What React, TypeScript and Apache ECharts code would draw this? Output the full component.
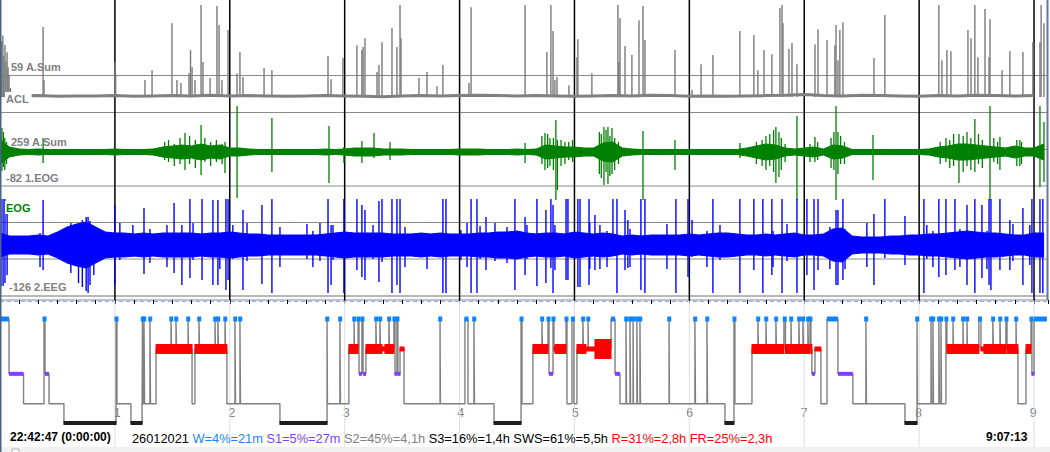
import React, { useEffect, useRef } from "react";
import * as echarts from "echarts";

// ---------- data (time axis in minutes from recording start) ----------
const X_MAX = 547.3;
const hourMarks = [1, 2, 3, 4, 5, 6, 7, 8, 9];

// ACL activity channel: baseline every 10 min, spikes [minute, amplitude]
const aclBaseline = [4, 3, 4, 2, 3, 3, 4, 2, 3, 4, 3, 5, 3, 4, 3, 2, 3, 4, 3, 2, 1, 3, 4, 3, 4, 5, 4, 3, 4, 3, 2, 3, 4, 3, 5, 4, 2, 3, 2, 3, 4, 5, 7, 4, 3, 5, 4, 3, 2, 4, 3, 5, 4, 3, 4];
const aclSpikes = [
  [0.3, 130], [0.9, 150], [1.5, 165], [2.0, 110], [2.6, 140], [3.1, 95], [3.7, 120], [4.2, 80], [4.7, 60], [5.5, 25],
  [22.5, 188], [23.0, 45], [60.0, 94], [60.4, 60],
  [75.7, 46], [79.4, 72], [89.8, 198], [92.4, 46], [94.5, 38], [98.7, 64], [99.5, 126], [100.3, 80], [101.8, 46],
  [105.0, 247], [106.0, 94], [109.7, 51], [113.3, 244], [114.4, 193], [115.9, 46], [119.1, 180], [123.8, 64],
  [125.3, 121], [126.9, 54], [137.9, 78], [142.0, 72], [171.3, 110], [172.9, 48], [179.1, 105],
  [186.4, 139], [189.0, 126], [189.6, 134], [190.6, 158], [196.9, 67], [197.9, 86], [199.5, 147], [204.7, 185],
  [207.3, 134], [208.9, 247], [209.4, 158], [218.8, 51], [223.0, 67], [228.2, 29], [231.3, 86],
  [244.9, 38], [246.0, 241], [274.2, 247], [285.6, 121], [287.7, 247], [288.8, 177], [289.8, 46], [290.9, 54],
  [297.1, 32], [301.3, 107], [301.8, 155], [309.1, 64],
  [322.7, 247], [323.2, 94], [323.8, 212], [326.4, 137], [330.0, 113], [333.7, 206], [335.8, 244], [336.8, 153],
  [352.5, 126], [361.4, 19], [366.1, 88], [372.3, 113], [386.4, 177], [393.7, 166], [395.8, 72], [399.0, 126],
  [403.1, 115], [407.3, 239], [408.4, 247], [408.9, 198], [412.0, 129], [413.6, 145], [416.2, 88],
  [425.6, 142], [427.2, 182], [431.9, 153], [436.0, 139], [436.6, 193], [437.6, 99], [438.6, 180], [440.2, 201],
  [456.4, 105], [462.1, 220], [490.3, 247], [491.9, 99], [494.5, 126], [496.6, 123], [505.5, 180], [507.1, 158],
  [509.1, 247], [510.7, 107], [514.4, 236], [516.5, 107], [517.0, 209], [523.3, 72], [527.4, 123], [534.2, 121],
  [539.4, 147], [543.1, 147], [543.7, 247], [545.2, 198],
];

// EOG channel: envelope every 5 min, spikes [minute, up, down]
const eogEnvelope = [12, 5, 3, 2.5, 3, 2.5, 2.5, 2.5, 2.5, 2.5, 2.5, 2.5, 3, 2.5, 2.5, 2.5, 3, 5, 6, 7, 6, 8, 6, 7, 4, 4, 3, 2.5, 2.5, 2.5, 2.5, 2.5, 2.5, 2.5, 3, 2.5, 3, 4, 4, 4, 3, 3, 3, 2.5, 2.5, 2.5, 2.5, 2.5, 3, 3, 3, 2.5, 2.5, 2.5, 3, 2.5, 3, 7, 6, 5, 5, 4, 4, 9, 10, 4, 3, 2.5, 2.5, 2.5, 2.5, 2.5, 2.5, 2.5, 2.5, 2.5, 2.5, 2.5, 4, 6, 8, 7, 4, 3, 4, 5, 3, 7, 6, 2.5, 2.5, 2.5, 2.5, 2.5, 2.5, 2.5, 2.5, 3, 5, 6, 8, 8, 7, 6, 5, 4, 6, 4, 4, 8];
const eogSpikes = [
  [1.0, 24, 19], [1.8, 20, 15], [2.5, 14, 18], [3.4, 10, 12], [22.5, 14, 11],
  [86.0, 10, 8], [88.0, 12, 10], [91.0, 8, 14], [94.0, 14, 12], [96.6, 19, 18], [99.0, 16, 12], [102.0, 12, 16],
  [105.0, 27, 23], [107.0, 14, 10], [110.0, 10, 14], [113.0, 12, 10], [116.0, 8, 12], [117.5, 10, 21],
  [123.8, 46, 46], [142.0, 34, 20], [171.8, 26, 31], [179.6, 5, 11], [189.0, 11, 11], [195.3, 19, 6], [203.7, 10, 8],
  [274.2, 9, 11], [283.0, 16, 12], [284.6, 19, 18], [286.0, 18, 16], [287.2, 14, 14], [289.0, 14, 18], [290.3, 32, 48],
  [291.1, 12, 38], [293.0, 12, 14], [295.0, 10, 12], [297.0, 10, 8], [299.0, 12, 10],
  [313.0, 20, 22], [314.0, 18, 26], [315.4, 25, 33], [316.5, 22, 20], [317.5, 25, 32], [318.5, 16, 24], [319.6, 24, 22],
  [321.0, 14, 18], [323.0, 10, 12], [335.8, 21, 48], [352.5, 12, 18], [386.4, 9, 6],
  [395.0, 10, 12], [398.0, 12, 14], [400.0, 16, 18], [402.0, 18, 14], [404.0, 22, 20], [405.2, 25, 31], [406.8, 20, 25],
  [408.0, 14, 18], [410.0, 8, 10], [416.2, 36, 48], [423.0, 8, 10], [425.6, 15, 10], [427.0, 10, 8],
  [434.0, 14, 16], [435.5, 20, 18], [436.6, 46, 48], [437.6, 20, 22], [439.0, 16, 12], [441.0, 10, 12], [455.9, 17, 28],
  [491.0, 10, 12], [494.0, 14, 10], [496.0, 12, 16], [498.0, 18, 14], [500.8, 18, 31], [503.0, 16, 20], [505.0, 20, 14],
  [507.0, 14, 18], [509.1, 33, 20], [511.0, 18, 12], [513.0, 12, 16], [517.0, 46, 48], [519.0, 14, 10], [521.0, 10, 12],
  [522.2, 15, 18], [531.0, 12, 14], [532.6, 12, 14], [533.5, 10, 12], [543.1, 46, 35], [545.2, 30, 30],
];

// EEG channel: envelope every 5 min, spikes [minute, up, down]
const eegEnvelope = [12, 9, 9, 9, 10, 9, 13, 18, 21, 23, 18, 13, 12, 12, 11, 12, 11, 12, 12, 12, 12, 11, 12, 12, 13, 12, 11, 11, 10, 10, 10, 10, 10, 10, 11, 12, 13, 12, 12, 12, 12, 11, 11, 11, 12, 11, 12, 11, 11, 11, 12, 12, 13, 13, 14, 12, 11, 12, 12, 11, 13, 12, 11, 12, 11, 9, 10, 9, 10, 10, 10, 10, 11, 10, 11, 12, 12, 11, 10, 10, 11, 10, 11, 12, 10, 10, 11, 16, 17, 9, 8, 8, 8, 9, 9, 10, 10, 11, 11, 12, 13, 14, 13, 12, 12, 11, 10, 10, 12, 12];
const eegSpikes = [
  [0.5, 46, 41], [1.6, 46, 41], [2.6, 46, 38], [3.7, 40, 30], [20.9, 12, 22], [22.5, 45, 25],
  [37.0, 22, 28], [41.0, 20, 38], [43.0, 25, 42], [45.0, 28, 46], [46.0, 28, 48], [47.0, 24, 40], [49.0, 18, 30],
  [60.0, 40, 40], [62.6, 22, 15], [69.4, 20, 12], [75.2, 37, 29], [78.3, 16, 18], [87.2, 20, 22], [90.9, 42, 28],
  [95.0, 20, 40], [99.2, 46, 33], [100.8, 22, 15], [105.5, 46, 35], [111.2, 45, 40], [113.8, 45, 40], [114.8, 12, 24],
  [118.0, 46, 45], [119.1, 46, 35], [121.6, 20, 14], [126.9, 35, 45], [129.0, 22, 16], [136.8, 40, 39], [142.0, 46, 48],
  [146.2, 18, 22], [160.3, 21, 14], [163.4, 14, 22], [167.1, 22, 16], [171.3, 46, 48], [172.9, 20, 40], [173.9, 20, 15],
  [179.6, 46, 48], [186.4, 46, 25], [189.0, 40, 32], [190.6, 35, 35], [194.8, 20, 14], [197.9, 44, 37], [199.5, 46, 17],
  [204.7, 46, 48], [207.3, 46, 40], [208.9, 46, 48], [211.5, 18, 22], [223.0, 12, 24], [231.3, 46, 48], [232.9, 46, 48],
  [240.7, 15, 15], [243.9, 22, 22], [246.0, 46, 48], [249.1, 46, 48], [250.7, 19, 14], [253.8, 28, 25], [258.5, 22, 16],
  [264.8, 18, 18], [268.9, 46, 45], [274.2, 28, 30], [275.2, 20, 14], [280.4, 46, 41], [285.1, 35, 38], [287.7, 46, 23],
  [288.8, 40, 48], [289.8, 20, 25], [295.6, 46, 35], [296.6, 46, 35], [301.8, 46, 42], [302.9, 46, 42], [307.6, 46, 40],
  [308.0, 22, 24], [310.7, 30, 25], [313.3, 20, 24], [317.0, 14, 22], [320.1, 46, 10], [322.2, 46, 48], [326.4, 35, 25],
  [327.9, 25, 23], [329.0, 16, 22], [334.7, 46, 45], [336.8, 46, 48], [348.3, 21, 24], [353.0, 46, 48], [359.3, 46, 32],
  [361.4, 25, 12], [369.2, 14, 22], [372.3, 46, 48], [376.0, 20, 15], [386.4, 46, 48], [393.7, 46, 25], [398.4, 46, 48],
  [403.1, 46, 30], [403.7, 14, 22], [408.4, 46, 48], [411.0, 21, 16], [416.2, 46, 48], [421.4, 46, 30], [425.1, 46, 45],
  [427.2, 46, 25], [433.4, 18, 24], [436.6, 35, 40], [437.6, 35, 40], [440.2, 46, 35], [441.3, 16, 24], [452.7, 22, 22],
  [456.4, 31, 40], [462.1, 46, 13], [472.6, 29, 20], [482.5, 46, 48], [484.0, 20, 14], [487.2, 14, 22], [490.3, 46, 32],
  [494.0, 46, 30], [498.7, 46, 25], [501.3, 16, 22], [505.0, 40, 40], [509.1, 46, 48], [512.8, 40, 33], [515.4, 14, 24],
  [516.5, 46, 40], [517.5, 46, 45], [522.2, 46, 25], [527.4, 25, 25], [529.0, 21, 16], [534.2, 37, 40], [537.8, 20, 20],
  [538.9, 46, 48], [543.1, 46, 48], [544.6, 46, 48],
];

// Hypnogram: [minute the stage starts, stage]; R = REM, Rt = REM (thin mark), Rw = REM (wide mark)
const hypnogram: [number, string][] = [
  [0.5, "W"], [4.7, "S1"], [12.3, "S2"], [23.0, "W"], [23.5, "S1"], [25.6, "S2"], [33.4, "S3"], [60.6, "W"], [61.1, "S2"],
  [68.4, "S3"], [74.2, "S2"], [74.4, "W"], [74.7, "S2"], [75.2, "W"], [75.5, "S2"], [78.3, "W"], [78.6, "S2"], [81.5, "R"],
  [89.3, "W"], [89.6, "R"], [91.9, "W"], [92.2, "R"], [98.2, "W"], [98.4, "R"], [100.3, "S2"], [101.8, "R"], [103.9, "W"],
  [104.2, "R"], [112.3, "W"], [112.5, "R"], [113.8, "W"], [114.1, "R"], [117.5, "W"], [117.8, "R"], [118.5, "S2"],
  [122.7, "W"], [123.0, "S2"], [125.3, "W"], [125.6, "S2"], [146.2, "S3"], [170.8, "W"], [171.0, "S2"], [177.5, "W"],
  [177.8, "S2"], [182.2, "R"], [184.9, "W"], [185.1, "R"], [187.0, "W"], [187.5, "S1"], [189.0, "W"], [189.6, "S1"],
  [191.1, "R"], [196.3, "W"], [196.6, "R"], [198.4, "W"], [198.7, "R"], [199.5, "Rt"], [201.0, "R"], [203.1, "W"],
  [203.4, "R"], [205.7, "W"], [206.3, "S1"], [207.3, "W"], [207.8, "S1"], [208.9, "Rt"], [211.0, "S2"], [229.8, "W"],
  [230.0, "S2"], [242.8, "W"], [244.4, "S2"], [247.5, "W"], [247.8, "S2"], [258.0, "S3"], [272.1, "W"], [272.6, "S2"],
  [278.3, "R"], [283.0, "W"], [283.3, "R"], [286.2, "W"], [286.7, "S1"], [288.8, "W"], [289.3, "Rt"], [289.8, "R"],
  [295.6, "W"], [296.1, "S2"], [298.7, "W"], [299.7, "S2"], [301.3, "R"], [304.4, "W"], [304.7, "R"], [306.0, "Rt"],
  [307.1, "W"], [307.3, "Rt"], [310.7, "Rw"], [319.1, "W"], [321.2, "S1"], [323.8, "S2"], [326.9, "W"], [327.2, "S2"],
  [329.0, "W"], [329.3, "S2"], [330.6, "W"], [330.8, "S2"], [332.6, "W"], [332.9, "S2"], [334.2, "W"], [334.5, "S2"],
  [349.4, "W"], [349.6, "S2"], [362.9, "W"], [363.2, "S2"], [369.2, "W"], [369.5, "S2"], [378.6, "S3"], [383.3, "W"],
  [383.8, "S2"], [392.7, "R"], [395.8, "W"], [396.1, "R"], [400.0, "W"], [400.3, "R"], [405.2, "W"], [405.5, "R"],
  [409.4, "W"], [410.2, "R"], [413.1, "W"], [413.3, "R"], [417.2, "W"], [417.5, "R"], [419.3, "W"], [419.6, "R"],
  [421.9, "W"], [422.2, "R"], [423.0, "W"], [423.5, "R"], [424.0, "S1"], [425.6, "Rt"], [428.7, "S2"], [431.9, "W"],
  [437.6, "S1"], [445.4, "S2"], [452.2, "W"], [452.5, "S2"], [472.6, "S3"], [478.9, "W"], [479.1, "S2"], [486.2, "W"],
  [486.4, "S2"], [487.2, "W"], [487.5, "S2"], [490.3, "W"], [490.6, "S2"], [491.4, "W"], [491.7, "S2"], [494.0, "W"],
  [494.5, "R"], [497.7, "W"], [497.9, "R"], [502.9, "W"], [503.1, "R"], [505.0, "W"], [505.2, "R"], [511.2, "W"],
  [512.3, "Rt"], [513.8, "R"], [518.5, "W"], [518.8, "R"], [522.2, "W"], [522.5, "R"], [525.3, "W"], [525.9, "R"],
  [530.6, "W"], [530.8, "R"], [531.6, "S2"], [535.8, "R"], [538.4, "W"], [538.9, "S1"], [540.0, "W"],
];
const hypnoEnd = 546.7;

const startLabel = "22:42:47 (0:00:00)";
const endLabel = "9:07:13";
const summaryParts = ["26012021", "W=4%=21m", "S1=5%=27m", "S2=45%=4,1h", "S3=16%=1,4h SWS=61%=5,5h", "R=31%=2,8h FR=25%=2,3h"];
const summaryColors = ["#000000", "#1a86f0", "#8040ff", "#808080", "#000000", "#ff0000"];

// ---------- styles ----------
const FONT = "'Liberation Sans', Arial, sans-serif";
const stageKeys = ["W", "R", "Rt", "Rw", "S1", "S2", "S3"];
const stageLevel: Record<string, number> = { W: 0, R: 1, Rt: 1, Rw: 1, S1: 1.83, S2: 2.83, S3: 3.47 };
const stageMark: Record<string, { h: number; minW: number; color: string; pad: number } | null> = {
  W: { h: 5, minW: 4, color: "#0a84ff", pad: 0 },
  R: { h: 10, minW: 2, color: "#ff0000", pad: 0.5 },
  Rt: { h: 5, minW: 2, color: "#ff0000", pad: 0.5 },
  Rw: { h: 20, minW: 2, color: "#ff0000", pad: 0.5 },
  S1: { h: 4, minW: 3, color: "#8040ff", pad: 0 },
  S2: null,
  S3: { h: 4, minW: 2, color: "#1e1e1e", pad: 0.5 },
};

export default function App() {
  const ref = useRef<HTMLDivElement>(null);

  useEffect(() => {
    if (!ref.current) return;
    const chart = echarts.init(ref.current, null, { renderer: "svg" });

    const hourData = hourMarks.map((h) => [h * 60, 0]);
    const aclData = aclBaseline.map((v, i) => [i * 10, v]);
    const bandTimes = (arr: number[]) => arr.map((_, i) => i * 5);

    const vLine = (color: string, width: number) => (params: any, api: any) => {
      const x = api.coord([api.value(0), 0])[0];
      const cs = params.coordSys;
      return { type: "line", shape: { x1: x, y1: cs.y, x2: x, y2: cs.y + cs.height }, style: { stroke: color, lineWidth: width } };
    };
    const spikeRender = (color: string, width: number) => (_p: any, api: any) => {
      const t = api.value(0);
      const a = api.coord([t, api.value(1)]);
      const b = api.coord([t, -api.value(2)]);
      return { type: "line", shape: { x1: a[0], y1: a[1], x2: b[0], y2: b[1] }, style: { stroke: color, lineWidth: width } };
    };
    const aclSpikeRender = (_p: any, api: any) => {
      const t = api.value(0);
      const a = api.coord([t, api.value(1)]);
      const b = api.coord([t, 0]);
      return { type: "line", shape: { x1: a[0], y1: a[1], x2: b[0], y2: b[1] }, style: { stroke: "#7a7a7a", lineWidth: 1.4 } };
    };
    const bandRender = (amps: number[], color: string) => (_p: any, api: any) => {
      const ts = bandTimes(amps);
      const upper = ts.map((t, i) => api.coord([t, amps[i]]));
      const lower = ts.map((t, i) => api.coord([t, -amps[i]])).reverse();
      return { type: "polygon", shape: { points: upper.concat(lower) }, style: { fill: color, stroke: color, lineWidth: 1 } };
    };

    const stepData: number[][] = hypnogram.map(([t, s]) => [t, stageLevel[s]]);
    stepData.push([hypnoEnd, stageLevel[hypnogram[hypnogram.length - 1][1]]]);
    const segData = hypnogram.map(([t, s], i) => [t, i + 1 < hypnogram.length ? hypnogram[i + 1][0] : hypnoEnd, stageKeys.indexOf(s)]);
    const stageRender = (_p: any, api: any) => {
      const k = stageKeys[api.value(2)];
      const st = stageMark[k];
      if (!st) return null;
      const lv = stageLevel[k];
      const p1 = api.coord([api.value(0), lv]);
      const p2 = api.coord([api.value(1), lv]);
      let x = p1[0] - st.pad;
      let w = p2[0] - p1[0] + 2 * st.pad;
      if (w < st.minW) {
        x = (p1[0] + p2[0]) / 2 - st.minW / 2;
        w = st.minW;
      }
      return { type: "rect", shape: { x, y: p1[1] - st.h / 2, width: w, height: st.h }, style: { fill: st.color } };
    };

    const grids = [
      { left: 0, top: 0, width: 1048, height: 300 },
      { left: 0, top: 2, width: 1048, height: 110 },
      { left: 0, top: 102, width: 1048, height: 100 },
      { left: 0, top: 197, width: 1048, height: 98 },
      { left: 0, top: 301, width: 1048, height: 146 },
      { left: 0, top: 319, width: 1048, height: 104 },
      { left: 0, top: 300, width: 1048, height: 104 },
    ];
    const hiddenX = (i: number) => ({ gridIndex: i, type: "value", min: 0, max: X_MAX, show: false });
    const xAxes: any[] = grids.map((_, i) => hiddenX(i));
    xAxes[0] = {
      gridIndex: 0, type: "value", min: 0, max: X_MAX, position: "top", interval: 10,
      axisLine: { show: true, lineStyle: { color: "#b8c2dc", width: 2 } },
      axisTick: { show: true, inside: true, length: 4, lineStyle: { color: "#000", width: 1 } },
      axisLabel: { show: false }, splitLine: { show: false },
    };
    xAxes[6] = {
      gridIndex: 6, type: "value", min: 0, max: X_MAX, position: "bottom", interval: 60,
      axisLine: { show: false }, axisTick: { show: false }, splitLine: { show: false },
      axisLabel: {
        show: true, margin: 3, color: "#808080", fontSize: 12, fontFamily: FONT,
        formatter: (v: number) => (v > 0 && Math.abs(v % 60) < 1e-6 ? String(Math.round(v / 60)) : ""),
      },
    };
    const yAxes = [
      { gridIndex: 0, type: "value", min: 0, max: 1, show: false },
      { gridIndex: 1, type: "value", min: -40, max: 255, show: false },
      { gridIndex: 2, type: "value", min: -50, max: 50, show: false },
      { gridIndex: 3, type: "value", min: -50, max: 48, show: false },
      { gridIndex: 4, type: "value", min: 0, max: 1, show: false },
      { gridIndex: 5, type: "value", min: 0, max: 3.47, inverse: true, show: false },
      { gridIndex: 6, type: "value", min: 0, max: 1, show: false },
    ];

    const hLine = (y: number, color = "#8a8a8a", dash?: number[]) => ({
      type: "line", z: 0, shape: { x1: 0, y1: y, x2: 1048, y2: y },
      style: { stroke: color, lineWidth: 1, lineDash: dash },
    });
    const label = (text: string, x: number, y: number, color: string, bg?: string) => ({
      type: "text", z: 100, x, y,
      style: { text, fill: color, font: `bold 11px ${FONT}`, verticalAlign: "middle", align: "left", backgroundColor: bg, padding: bg ? [1, 3, 1, 1] : 0 },
    });

    const rich: any = {};
    summaryColors.forEach((c, i) => { rich["c" + i] = { fill: c, font: `12.8px ${FONT}` }; });

    const option: any = {
      animation: false,
      backgroundColor: "#ffffff",
      grid: grids,
      xAxis: xAxes,
      yAxis: yAxes,
      series: [
        { type: "custom", xAxisIndex: 0, yAxisIndex: 0, z: 1, data: hourData, renderItem: vLine("#000000", 1.5) },
        { type: "custom", xAxisIndex: 4, yAxisIndex: 4, z: 1, data: hourData, renderItem: vLine("#dedede", 1) },
        { type: "line", xAxisIndex: 1, yAxisIndex: 1, z: 3, data: aclData, showSymbol: false, lineStyle: { color: "#808080", width: 3 } },
        { type: "custom", xAxisIndex: 1, yAxisIndex: 1, z: 3, data: aclSpikes, renderItem: aclSpikeRender },
        { type: "custom", xAxisIndex: 2, yAxisIndex: 2, z: 3, data: [[0, 0]], renderItem: bandRender(eogEnvelope, "#008000") },
        { type: "custom", xAxisIndex: 2, yAxisIndex: 2, z: 4, data: eogSpikes, renderItem: spikeRender("#008000", 1.3) },
        { type: "custom", xAxisIndex: 3, yAxisIndex: 3, z: 5, data: [[0, 0]], renderItem: bandRender(eegEnvelope, "#0000ff") },
        { type: "custom", xAxisIndex: 3, yAxisIndex: 3, z: 5, data: eegSpikes, renderItem: spikeRender("#0000ff", 1.4) },
        { type: "line", xAxisIndex: 5, yAxisIndex: 5, z: 3, data: stepData, step: "end", showSymbol: false, lineStyle: { color: "#808080", width: 1.4 } },
        { type: "custom", xAxisIndex: 5, yAxisIndex: 5, z: 4, data: segData, renderItem: stageRender },
      ],
      graphic: [
        hLine(75.5), hLine(112.5), hLine(149.5), hLine(186), hLine(222.5), hLine(259), hLine(296, "#707070"),
        hLine(301.5, "#a8a8a8", [4, 3]),
        { type: "rect", z: 0, shape: { x: 0, y: 447, width: 1050, height: 5 }, style: { fill: "#f0f0f0" } },
        { type: "rect", z: 0, shape: { x: 12, y: 449, width: 7, height: 4 }, style: { fill: "#ffffff", stroke: "#b0b0b0", lineWidth: 1 } },
        { type: "rect", z: 90, shape: { x: 0, y: 0, width: 1.5, height: 452 }, style: { fill: "#4a6288" } },
        { type: "rect", z: 90, shape: { x: 1046.5, y: 0, width: 2, height: 300 }, style: { fill: "#6079a8" } },
        label("59 A.Sum", 11, 67, "#808080"),
        label("ACL", 5, 98.5, "#808080", "#ffffff"),
        label("259 A.Sum", 11, 141.5, "#808080"),
        label("-82 1.EOG", 6, 177.5, "#808080"),
        label("EOG", 5, 207.5, "#008000", "#ffffff"),
        label("-126 2.EEG", 9, 287, "#808080"),
        { type: "text", z: 100, x: 10, y: 437, style: { text: startLabel, fill: "#000", font: `bold 12px ${FONT}`, verticalAlign: "middle" } },
        { type: "text", z: 100, x: 986, y: 437, style: { text: endLabel, fill: "#000", font: `bold 12px ${FONT}`, verticalAlign: "middle" } },
        {
          type: "text", z: 100, x: 132, y: 438,
          style: { text: summaryParts.map((p, i) => `{c${i}|${p}}`).join(" "), rich, font: `12.8px ${FONT}`, fill: "#000", verticalAlign: "middle" },
        },
      ],
    };
    chart.setOption(option);
    return () => chart.dispose();
  }, []);

  return <div ref={ref} style={{ position: "absolute", left: 0, top: 0, width: 1050, height: 452, background: "#fff" }} />;
}
